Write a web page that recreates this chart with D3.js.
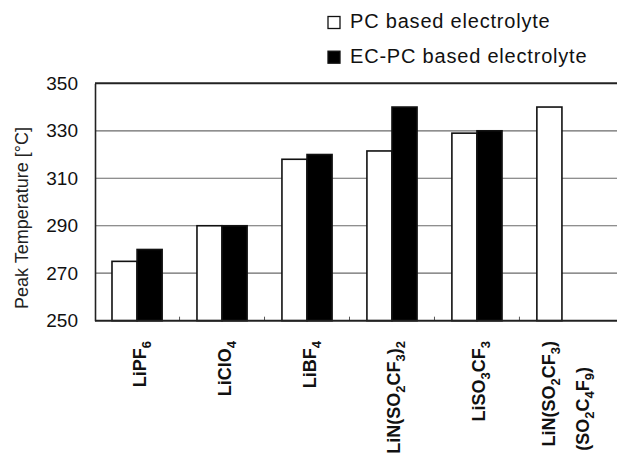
<!DOCTYPE html>
<html>
<head>
<meta charset="utf-8">
<script src="https://cdn.jsdelivr.net/npm/d3@7"></script>
<style>
  body { margin: 0; background: #fff; }
  svg { display: block; font-family: "Liberation Sans", Arial, sans-serif; }
</style>
</head>
<body>
<svg id="canvas"></svg>
<script>
// salt vs peak temperature, two electrolytes
let categories = ['LiPF6', 'LiClO4', 'LiBF4', 'LiN(SO2CF3)2', 'LiSO3CF3', 'LiN(SO2CF3)(SO2C4F9)']
// "_" marks the next digit as a subscript; each entry is a list of lines
let tickLabels = [['LiPF_6'], ['LiClO_4'], ['LiBF_4'], ['LiN(SO_2CF_3)_2'], ['LiSO_3CF_3'], ['LiN(SO_2CF_3)', '(SO_2C_4F_9)']]
let seriesNames = ['PC based electrolyte', 'EC-PC based electrolyte']
let pcValues = [275, 290, 318, 321.5, 329, 340]
let ecpcValues = [280, 290, 320, 340, 330, null]
let yTicks = [250, 270, 290, 310, 330, 350]

let width = 617
let height = 458
let plotLeft = 95, plotRight = 604, plotTop = 83.3, plotBottom = 320.7

let colors = ['#ffffff', '#000000']

let svg = d3.select('#canvas')
            .attr('width', width)
            .attr('height', height)

let x = d3.scaleBand()
          .domain(categories)
          .range([plotLeft, plotRight])
          .paddingInner(0.41)
          .paddingOuter(0.2)

let xSeries = d3.scaleBand()
                .domain([0, 1])
                .range([0, x.bandwidth()])

let y = d3.scaleLinear()
          .domain([250, 350])
          .range([plotBottom, plotTop])

// grid lines behind the bars
svg.append('g')
   .selectAll('line')
   .data(yTicks.slice(1, -1))
   .enter()
   .append('line')
   .attr('x1', plotLeft)
   .attr('x2', width + 5)
   .attr('y1', d => y(d))
   .attr('y2', d => y(d))
   .attr('stroke', '#6a6a6a')
   .attr('stroke-width', 1.2)

// small ticks between the groups
svg.append('g')
   .selectAll('line')
   .data(categories.slice(1))
   .enter()
   .append('line')
   .attr('x1', d => x(d) - (x.step() - x.bandwidth()) / 2)
   .attr('x2', d => x(d) - (x.step() - x.bandwidth()) / 2)
   .attr('y1', plotBottom)
   .attr('y2', plotBottom - 4)
   .attr('stroke', '#555')
   .attr('stroke-width', 1)

let rows = categories.map((c, i) => ({cat: c, values: [pcValues[i], ecpcValues[i]]}))

let groups = svg.append('g')
                .selectAll('g')
                .data(rows)
                .enter()
                .append('g')
                .attr('transform', d => 'translate(' + x(d.cat) + ',0)')

groups.selectAll('rect')
      .data(d => d.values.map((v, s) => ({s: s, v: v})).filter(d => d.v != null))
      .enter()
      .append('rect')
      .attr('x', d => xSeries(d.s))
      .attr('width', xSeries.bandwidth())
      .attr('y', d => y(d.v))
      .attr('height', d => plotBottom - y(d.v))
      .attr('fill', d => colors[d.s])
      .attr('stroke', '#111')
      .attr('stroke-width', 1.6)

// frame
svg.append('line').attr('x1', plotLeft).attr('x2', width + 5).attr('y1', plotTop).attr('y2', plotTop)
   .attr('stroke', '#222').attr('stroke-width', 2)
svg.append('line').attr('x1', plotLeft).attr('x2', width + 5).attr('y1', plotBottom).attr('y2', plotBottom)
   .attr('stroke', '#222').attr('stroke-width', 2)

// y axis
let yAxis = d3.axisLeft(y).tickValues(yTicks).tickSize(0).tickPadding(17)
let yg = svg.append('g')
            .attr('transform', 'translate(' + plotLeft + ',0)')
            .call(yAxis)
yg.select('.domain').attr('stroke', '#222').attr('stroke-width', 1.6)
yg.selectAll('text')
  .attr('font-size', 19)
  .attr('font-family', '"Liberation Sans", Arial, sans-serif')
  .attr('fill', '#111')

svg.append('text')
   .attr('transform', 'translate(28,218) rotate(-90)')
   .attr('text-anchor', 'middle')
   .attr('font-size', 18)
   .attr('fill', '#222')
   .text('Peak Temperature [°C]')

// x labels, rotated, with subscripts
let addFormula = (textSel, str) => {
    let parts = str.split(/(_\d)/).filter(p => p.length > 0)
    let shifted = false
    parts.forEach(p => {
        if (p[0] === '_') {
            textSel.append('tspan').attr('font-size', 13).attr('dy', shifted ? 0 : 5).text(p.slice(1))
            shifted = true
        } else {
            textSel.append('tspan').attr('dy', shifted ? -5 : 0).text(p)
            shifted = false
        }
    })
}

let lineOffsets = [[8.5], [-7, 27]]
let lineEnds = [[0], [0, -26]]

categories.forEach((c, i) => {
    let cx = x(c) + x.bandwidth() / 2
    let lines = tickLabels[i]
    let g = svg.append('g')
               .attr('transform', 'translate(' + cx + ',341) rotate(-90)')
    lines.forEach((ln, j) => {
        let t = g.append('text')
                 .attr('x', lineEnds[lines.length - 1][j])
                 .attr('y', lineOffsets[lines.length - 1][j])
                 .attr('text-anchor', 'end')
                 .attr('font-size', 18)
                 .attr('font-weight', 'bold')
                 .attr('fill', '#111')
        addFormula(t, ln)
    })
})

// legend
let legend = svg.append('g')
                .selectAll('g')
                .data(seriesNames)
                .enter()
                .append('g')
                .attr('transform', (d, i) => 'translate(0,' + (i * 34.7) + ')')

legend.append('rect')
      .attr('x', 328)
      .attr('y', 16.5)
      .attr('width', 12)
      .attr('height', 12)
      .attr('fill', (d, i) => colors[i])
      .attr('stroke', '#111')
      .attr('stroke-width', 1.3)

legend.append('text')
      .attr('x', 350)
      .attr('y', 28.3)
      .attr('font-size', 20)
      .attr('letter-spacing', 0.8)
      .attr('fill', '#111')
      .text(d => d)
</script>
</body>
</html>
